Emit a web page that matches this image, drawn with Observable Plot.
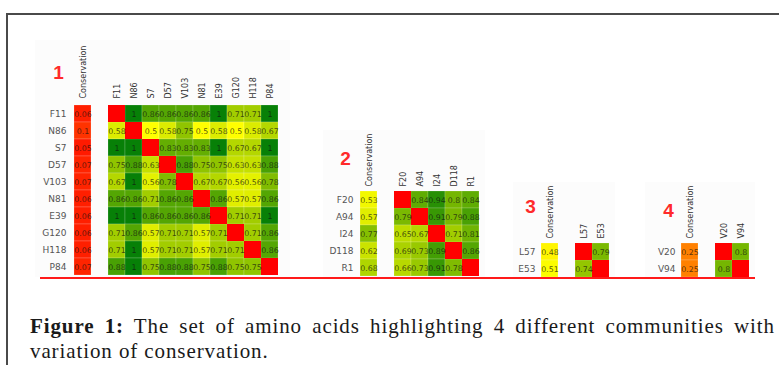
<!DOCTYPE html>
<html>
<head>
<meta charset="utf-8">
<script src="https://cdn.jsdelivr.net/npm/d3@7"></script>
<script src="https://cdn.jsdelivr.net/npm/@observablehq/plot@0.6"></script>
<style>
  html, body { margin: 0; padding: 0; background: #fff; }
  body { width: 779px; height: 365px; overflow: hidden; position: relative; }
  #frame { position: absolute; left: 6px; top: 13px; width: 820px; height: 400px;
           border-top: 2px solid #4a4a4a; border-left: 2px solid #4a4a4a; }
  .panel { position: absolute; }
  #redline { position: absolute; left: 40px; top: 277px; width: 715px; height: 0;
             border-top: 2px solid #ff1a1a; }
  #caption { position: absolute; left: 30px; top: 314px; width: 745px;
             font-family: "Liberation Serif", "Times New Roman", serif; font-size: 21px;
             letter-spacing: 0.9px; line-height: 25px; color: #1a1a1a; }
  #caption .l1 { text-align: justify; text-align-last: justify; }
</style>
</head>
<body>
<div id="frame"></div>
<div id="p1" class="panel"></div>
<div id="p2" class="panel"></div>
<div id="p3" class="panel"></div>
<div id="p4" class="panel"></div>
<div id="redline"></div>
<div id="caption">
  <div class="l1"><b>Figure 1:</b> The set of amino acids highlighting 4 different communities with</div>
  <div>variation of conservation.</div>
</div>
<script>
// ---- Data ----
const residues1 = ["F11","N86","S7","D57","V103","N81","E39","G120","H118","P84"];
const conservation1 = [0.06,0.1,0.05,0.07,0.07,0.06,0.06,0.06,0.06,0.07];
const matrix1 = [
  [null,1,0.86,0.86,0.86,0.86,1,0.71,0.71,1],
  [0.58,null,0.5,0.58,0.75,0.5,0.58,0.5,0.58,0.67],
  [1,1,null,0.83,0.83,0.83,1,0.67,0.67,1],
  [0.75,0.88,0.63,null,0.88,0.75,0.75,0.63,0.63,0.88],
  [0.67,1,0.56,0.78,null,0.67,0.67,0.56,0.56,0.78],
  [0.86,0.86,0.71,0.86,0.86,null,0.86,0.57,0.57,0.86],
  [1,1,0.86,0.86,0.86,0.86,null,0.71,0.71,1],
  [0.71,0.86,0.57,0.71,0.71,0.57,0.71,null,0.71,0.86],
  [0.71,1,0.57,0.71,0.71,0.57,0.71,0.71,null,0.86],
  [0.88,1,0.75,0.88,0.88,0.75,0.88,0.75,0.75,null]
];

const residues2 = ["F20","A94","I24","D118","R1"];
const conservation2 = [0.53,0.57,0.77,0.62,0.68];
const matrix2 = [
  [null,0.84,0.94,0.8,0.84],
  [0.79,null,0.91,0.79,0.88],
  [0.65,0.67,null,0.71,0.81],
  [0.69,0.73,0.89,null,0.86],
  [0.66,0.73,0.91,0.78,null]
];

const residues3 = ["L57","E53"];
const conservation3 = [0.48,0.51];
const matrix3 = [
  [null,0.79],
  [0.74,null]
];

const residues4 = ["V20","V94"];
const conservation4 = [0.25,0.25];
const matrix4 = [
  [null,0.8],
  [0.8,null]
];

const colorStops = [0, 0.25, 0.5, 0.75, 1];
const colorRange = ["#ff0000", "#ff8000", "#ffff00", "#90c400", "#078007"];

// ---- Drawing ----
const BW = 17.5;
function panel(el, {res, cons, mat, num, left, top, mL, mT, width, numDx, numDy}) {
  const cols = ["Conservation", "__gap", ...res];
  const vals = [], diag = [];
  res.forEach((r, i) => {
    vals.push({row: r, col: "Conservation", v: cons[i]});
    mat[i].forEach((v, j) => {
      if (v == null) diag.push({row: r, col: res[j]});
      else vals.push({row: r, col: res[j], v});
    });
  });
  const chart = Plot.plot({
    width,
    height: mT + res.length * BW,
    marginLeft: mL,
    marginTop: mT,
    marginRight: width - mL - cols.length * BW,
    marginBottom: 0,
    x: {type: "band", domain: cols, padding: 0},
    y: {type: "band", domain: res, padding: 0},
    color: {type: "linear", domain: colorStops, range: colorRange, interpolate: "rgb"},
    style: {background: "#fcfcfc", fontFamily: "DejaVu Sans, sans-serif", fontSize: "8px", color: "#333"},
    marks: [
      Plot.cell(vals, {x: "col", y: "row", fill: "v", stroke: "white", strokeOpacity: 0.35, strokeWidth: 0.5}),
      Plot.cell(diag, {x: "col", y: "row", fill: "#ff0000"}),
      Plot.text(vals, {x: "col", y: "row", text: d => String(d.v), fill: "#111", fillOpacity: 0.72, fontSize: 7.8}),
      Plot.axisX({anchor: "top", tickRotate: -90, tickSize: 0, tickPadding: 4, label: null,
                  tickFormat: d => d === "__gap" ? "" : d, fontSize: 8, fill: "#333"}),
      Plot.axisY({anchor: "left", tickSize: 0, tickPadding: 5, label: null, fontSize: 9, fill: "#555"}),
      Plot.text([num], {frameAnchor: "top-left", text: d => d, dx: numDx, dy: numDy,
                        textAnchor: "middle", lineAnchor: "middle",
                        fill: "#ff2a2a", fontSize: 19, fontWeight: "bold", fontFamily: "Liberation Sans, Arial, sans-serif"})
    ]
  });
  el.style.left = left + "px";
  el.style.top = top + "px";
  el.appendChild(chart);
}

panel(document.getElementById("p1"), {res: residues1, cons: conservation1, mat: matrix1, num: "1",
  left: 35, top: 40, mL: 36, mT: 62, width: 255, numDx: -13, numDy: -30});
panel(document.getElementById("p2"), {res: residues2, cons: conservation2, mat: matrix2, num: "2",
  left: 323, top: 130, mL: 35, mT: 60, width: 162, numDx: -13, numDy: -32});
panel(document.getElementById("p3"), {res: residues3, cons: conservation3, mat: matrix3, num: "3",
  left: 513, top: 182, mL: 27, mT: 60, width: 102, numDx: -10, numDy: -36});
panel(document.getElementById("p4"), {res: residues4, cons: conservation4, mat: matrix4, num: "4",
  left: 645, top: 182, mL: 35, mT: 60, width: 110, numDx: -12, numDy: -32});
</script>
</body>
</html>
